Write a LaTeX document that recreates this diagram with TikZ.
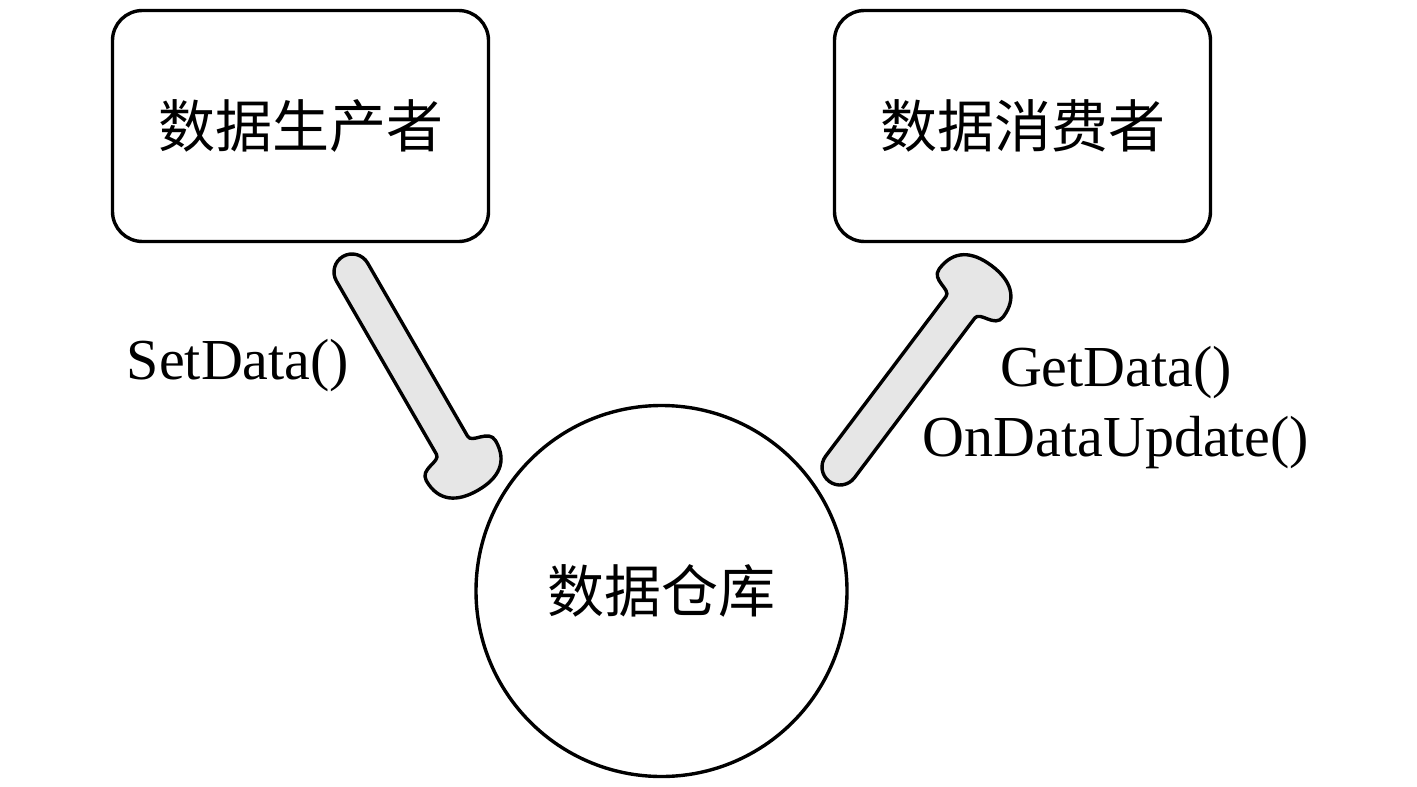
\documentclass[tikz,border=0pt]{standalone}
\usepackage{fontspec}
\setmainfont{Liberation Serif}
\newfontfamily\cjk{Noto Sans CJK SC}
\definecolor{arrowgrey}{HTML}{E6E6E6}
\begin{document}
\begin{tikzpicture}[x=1pt,y=-1pt,
  box/.style={draw, line width=3.4pt, rounded corners=30pt, minimum width=376pt,
    minimum height=231pt, inner sep=0pt, outer sep=0pt,
    font=\cjk\fontsize{57}{62}\selectfont},
  store/.style={draw, circle, line width=3.4pt, minimum size=371pt, inner sep=0pt,
    outer sep=0pt, font=\cjk\fontsize{57}{62}\selectfont},
  lbl/.style={font=\fontsize{58}{70}\selectfont, align=center, inner sep=0pt},
  fatarrow/.style={draw, line width=3.4pt, fill=arrowgrey, line join=round},
  fatar/.pic={
    \draw[fatarrow] (0,18) -- (200,18)
      .. controls (209,18) and (204,40) .. (218,40)
      .. controls (242,40) and (252,24) .. (252,0)
      .. controls (252,-24) and (242,-40) .. (218,-40)
      .. controls (204,-40) and (209,-18) .. (200,-18)
      -- (0,-18) arc[start angle=270, end angle=90, radius=18] -- cycle;
  }]
\useasboundingbox (0,0) rectangle (1417,787);
\node[box] (prod) at (300.5,126) {数据生产者};
\node[box] (cons) at (1022.5,126) {数据消费者};
\node[store] (repo) at (661.5,591) {数据仓库};
\node[lbl] (set) at (238,366) {SetData()};
\node[lbl] (get) at (1116,408) {GetData()\\OnDataUpdate()};
\coordinate (ltail) at (352,272);
\coordinate (rtail) at (840,467);
\path (ltail) pic[rotate=-60] {fatar};
\path (rtail) pic[rotate=53] {fatar};
\end{tikzpicture}
\end{document}
